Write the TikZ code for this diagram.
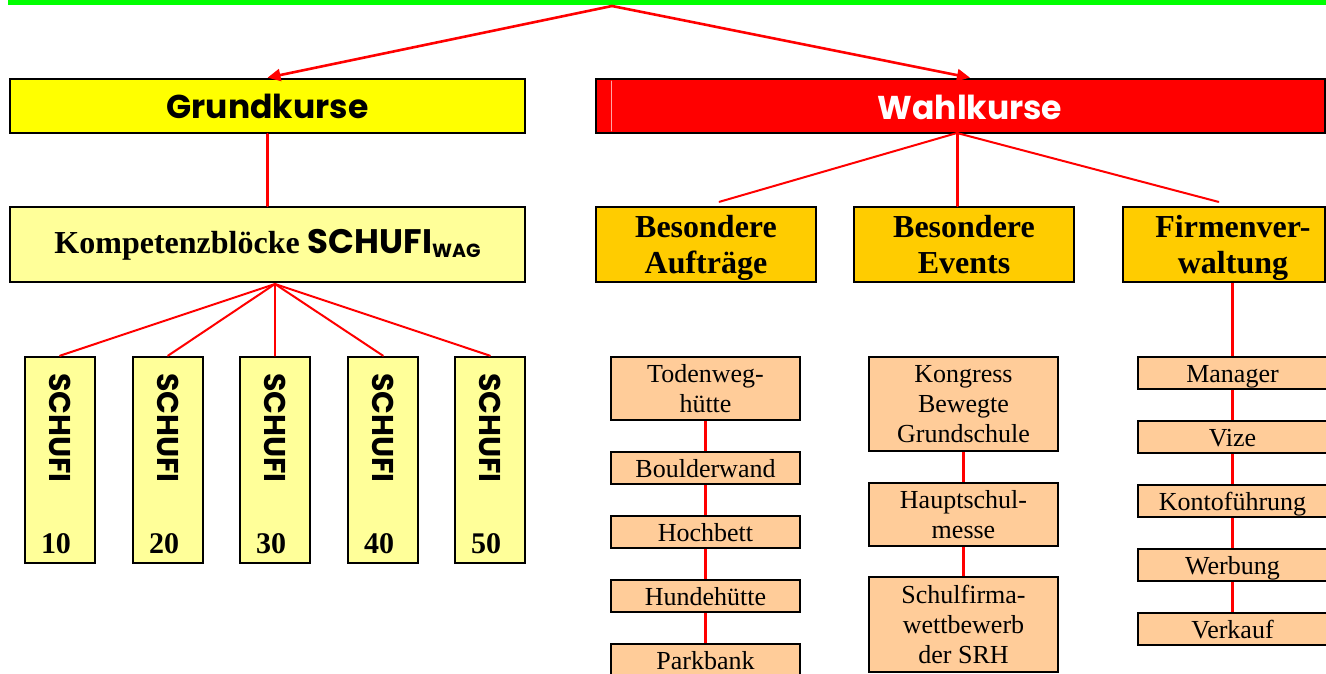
\documentclass[tikz,border=0pt]{standalone}
\usepackage{fontspec}
\setmainfont{Liberation Serif}
\newfontfamily\comicfont{Poppins}
\usetikzlibrary{arrows.meta}

\definecolor{gelb}{RGB}{255,255,0}
\definecolor{hellgelb}{RGB}{255,255,153}
\definecolor{gold}{RGB}{255,204,0}
\definecolor{pfirsich}{RGB}{255,204,153}
\definecolor{gruen}{RGB}{0,255,0}

\def\colw{189}
\def\zeile{32}

\begin{document}
\begin{tikzpicture}[x=1pt, y=-1pt, >={Triangle[length=13pt,width=12pt]}, line cap=round,
    kasten/.style={draw=black, line width=2.6pt, inner sep=0pt, align=center},
    kopf/.style={kasten, minimum height=54pt, font=\comicfont\bfseries\fontsize{33}{38}\selectfont},
    gruppe/.style={kasten, fill=gold, minimum width=220pt, minimum height=75pt, text depth=0pt,
                   font=\bfseries\fontsize{32}{36}\selectfont},
    posten/.style={kasten, fill=pfirsich, minimum width=\colw pt, font=\fontsize{26}{30}\selectfont},
    einzeilig/.style={posten, minimum height=\zeile pt, text height=18pt, text depth=0pt},
    linie/.style={draw=red, line width=2pt},
    kette/.style={draw=red, line width=3pt, line cap=butt}
  ]
\useasboundingbox (0,0) rectangle (1326,674);
\fill [gruen] (8,0) rectangle (1326,5);
\coordinate (oben) at (612,6);

\node [kopf, fill=gelb, minimum width=515pt] (grund) at (267.5,106) {Grundkurse};
\node [kopf, fill=red, minimum width=729pt] (wahl) at (960.5,106) {};
\node [font=\comicfont\bfseries\fontsize{33}{38}\selectfont, text=white] (wahltext) at (970,107) {Wahlkurse};
\draw [red!35!white, line width=0.8pt] (611,81) -- (611,131);

\draw [linie, line width=2.6pt, ->] (oben) -- (grund.north);
\draw [linie, line width=2.6pt, ->] (oben) -- (wahltext |- wahl.north);

% Grundkurse
\node [kasten, fill=hellgelb, minimum width=515pt, minimum height=75pt] (komp) at (267.5,244.5)
  {{\bfseries\fontsize{32}{36}\selectfont Kompetenzblöcke }{\comicfont\bfseries\fontsize{34}{36}\selectfont
   SCHUFI\raisebox{-4pt}{\fontsize{19}{20}\selectfont WAG}}};
\draw [linie, line width=3pt] (grund) -- (komp);
\coordinate (kfuss) at (275,284);

\foreach \x/\n [count=\i] in {60/10,168/20,275/30,383/40,490/50}{
  \node [kasten, fill=hellgelb, minimum width=70pt, minimum height=206pt] (s\i) at (\x,460) {};
  \node [font=\comicfont\bfseries\fontsize{30}{30}\selectfont, rotate=-90] (st\i) at (\x,428) {SCHUFI};
  \node [anchor=base, font=\bfseries\fontsize{30}{30}\selectfont] (sn\i) at (\x-4,553) {\n};
  \draw [linie] (kfuss) -- (s\i.north);
}

% Wahlkurse
\node [gruppe] (auf) at (706,244.5) {Besondere\\Aufträge};
\node [gruppe] (ev) at (964,244.5) {Besondere\\Events};
\node [gruppe, minimum width=202pt] (firm) at (1224,244.5) {};
\node [font=\bfseries\fontsize{32}{36}\selectfont, align=center, text depth=0pt] (firmtext) at (1233,244.5) {Firmenver-\\waltung};

\coordinate (wfuss) at (957,133);
\draw [linie, shorten >=14pt] (wfuss) -- (auf.north);
\draw [linie, line width=3pt] (wfuss) -- (wfuss |- ev.north);
\draw [linie, shorten >=15pt] (wfuss) -- (firmtext |- firm.north);

\node [posten, minimum height=63pt] (a1) at (705.5,388.5) {Todenweg-\\hütte};
\node [einzeilig] (a2) at (705.5,468) {Boulderwand};
\node [einzeilig] (a3) at (705.5,532) {Hochbett};
\node [einzeilig] (a4) at (705.5,596) {Hundehütte};
\node [einzeilig] (a5) at (705.5,660) {Parkbank};
\foreach \i [evaluate=\i as \j using int(\i+1)] in {1,...,4}
  \draw [kette] (a\i) -- (a\j);

\node [posten, minimum height=94pt] (e1) at (963.5,404) {Kongress\\Bewegte\\Grundschule};
\node [posten, minimum height=63pt] (e2) at (963.5,514.5) {Hauptschul-\\messe};
\node [posten, minimum height=95pt] (e3) at (963.5,624.5) {Schulfirma-\\wettbewerb\\der SRH};
\draw [kette] (e1) -- (e2);
\draw [kette] (e2) -- (e3);

\foreach \i/\y/\txt in {1/373/Manager,2/437/Vize,3/501/Kontoführung,4/565/Werbung,5/629/Verkauf}
  \node [einzeilig] (f\i) at (1232.5,\y) {\txt};
\draw [kette] (f1.north |- firm.south) -- (f1.north);
\foreach \i [evaluate=\i as \j using int(\i+1)] in {1,...,4}
  \draw [kette] (f\i) -- (f\j);
\end{tikzpicture}
\end{document}
